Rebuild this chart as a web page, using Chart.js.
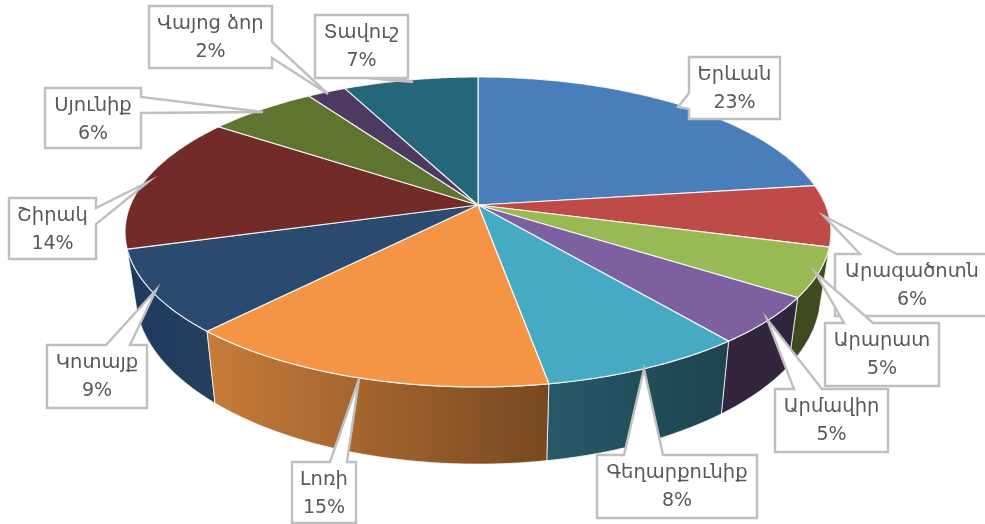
<!DOCTYPE html>
<html>
<head>
<meta charset="utf-8">
<style>
  html, body { margin: 0; padding: 0; background: #fff; overflow: hidden; }
  canvas { display: block; }
</style>
<script src="https://cdn.jsdelivr.net/npm/chart.js@4"></script>
</head>
<body>
<canvas id="pie" width="985" height="524"></canvas>
<script>
const regions = ['Երևան', 'Արագածոտն', 'Արարատ', 'Արմավիր', 'Գեղարքունիք', 'Լոռի', 'Կոտայք', 'Շիրակ', 'Սյունիք', 'Վայոց ձոր', 'Տավուշ'];
const shares = [22.9, 6.4, 5.1, 4.9, 8.0, 14.6, 8.6, 14.2, 5.9, 2.1, 7.3];
const topColors = ['#4a7ebb', '#be4b48', '#98b954', '#7d60a0', '#46aac5', '#f49444', '#2a4a70', '#722b29', '#5f742f', '#4c3a60', '#256679'];
const wallFrom = ['#2f4d71', '#73302e', '#3e4a20', '#32263f', '#275868', '#c87c3a', '#1e3a5c', '#4f1d1c', '#3f4e20', '#332741', '#1a4753'];
const wallTo = ['#2f4d71', '#73302e', '#3e4a20', '#32263f', '#1e4450', '#784820', '#243f60', '#4f1d1c', '#3f4e20', '#332741', '#1a4753'];

// label boxes: x, y, w, h, then callout base a, tip, base b
const callouts = [
  { box: [689, 57, 91, 62], a: [689, 93], tip: [678, 107], b: [689, 109] },
  { box: [835, 254, 154, 62], a: [860, 254], tip: [824, 216], b: [897, 254] },
  { box: [825, 323, 114, 63], a: [844, 323], tip: [815, 272], b: [873, 323] },
  { box: [775, 389, 113, 63], a: [794, 389], tip: [767, 319], b: [822, 389] },
  { box: [597, 455, 160, 63], a: [624, 455], tip: [644, 369], b: [663, 455] },
  { box: [292, 462, 64, 61], a: [330, 462], tip: [359, 379], b: [347, 462] },
  { box: [47, 345, 100, 63], a: [106, 345], tip: [156, 290], b: [130, 345] },
  { box: [9, 198, 87, 61], a: [96, 208], tip: [148, 182], b: [96, 224] },
  { box: [45, 88, 96, 60], a: [141, 97], tip: [263, 112], b: [141, 113] },
  { box: [149, 6, 123, 62], a: [272, 42], tip: [328, 94], b: [272, 58] },
  { box: [315, 15, 93, 63], a: [367, 78], tip: [413, 82], b: [392, 78] }
];

// perspective of the tilted disc
const CX = 478, CY = 205, RX = 347.6, RY = 150.3, K = 0.174;
const DEPTH_X = 0.971, DEPTH_Y = 1.096, DEPTH_OFF = 40;

function topPoint(a) {
  const w = 1 - K * Math.sin(a);
  return [CX + RX * Math.cos(a) / w, CY + RY * Math.sin(a) / w];
}
function bottomPoint(a) {
  const p = topPoint(a);
  return [CX + (p[0] - CX) * DEPTH_X, p[1] * DEPTH_Y + DEPTH_OFF];
}
function edge(ctx, fn, a0, a1) {
  const steps = Math.max(2, Math.ceil(Math.abs(a1 - a0) / 0.01));
  for (let i = 0; i <= steps; i++) {
    const p = fn(a0 + (a1 - a0) * i / steps);
    ctx.lineTo(p[0], p[1]);
  }
}

function drawWall(ctx, arc, i) {
  const s = arc.startAngle, e = arc.endAngle;
  const grad = ctx.createLinearGradient(Math.min(topPoint(s)[0], topPoint(e)[0]), 0, Math.max(topPoint(s)[0], topPoint(e)[0]), 0);
  grad.addColorStop(0, wallFrom[i]);
  grad.addColorStop(1, wallTo[i]);
  ctx.beginPath();
  edge(ctx, topPoint, s, e);
  edge(ctx, bottomPoint, e, s);
  ctx.closePath();
  ctx.fillStyle = grad;
  ctx.fill();
  ctx.strokeStyle = 'rgba(255,255,255,0.75)';
  ctx.lineWidth = 1;
  ctx.stroke();
}

function drawTop(ctx, arc, i) {
  ctx.beginPath();
  ctx.moveTo(CX, CY);
  edge(ctx, topPoint, arc.startAngle, arc.endAngle);
  ctx.closePath();
  ctx.fillStyle = topColors[i];
  ctx.fill();
  ctx.strokeStyle = 'rgba(255,255,255,0.85)';
  ctx.lineWidth = 1.2;
  ctx.stroke();
}

function drawLabel(ctx, c, i) {
  const [x, y, w, h] = c.box;
  const pts = [[x, y], [x + w, y], [x + w, y + h], [x, y + h]];
  // put the callout into the box side it leaves from
  let at = 0;
  if (c.a[1] === y) at = 1;
  else if (c.a[0] === x + w) at = 2;
  else if (c.a[0] === x) at = 4;
  else at = 3;
  if (at === 4) pts.push(c.b, c.tip, c.a);
  else pts.splice(at, 0, c.a, c.tip, c.b);
  ctx.beginPath();
  pts.forEach((p, n) => n ? ctx.lineTo(p[0], p[1]) : ctx.moveTo(p[0], p[1]));
  ctx.closePath();
  ctx.fillStyle = '#fff';
  ctx.fill();
  ctx.strokeStyle = '#bfbfbf';
  ctx.lineWidth = 2.4;
  ctx.stroke();
  ctx.fillStyle = '#595959';
  ctx.textAlign = 'center';
  ctx.textBaseline = 'middle';
  ctx.font = '19.5px "DejaVu Sans"';
  ctx.fillText(regions[i], x + w / 2, y + 18);
  ctx.font = '19px "DejaVu Sans"';
  ctx.fillText(Math.round(shares[i]) + '%', x + w / 2, y + 46);
}

const pie3d = {
  id: 'pie3d',
  beforeDatasetsDraw(chart) {
    const ctx = chart.ctx;
    const arcs = chart.getDatasetMeta(0).data;
    // back walls first
    const order = arcs.map((a, i) => i).sort((p, q) =>
      Math.sin((arcs[p].startAngle + arcs[p].endAngle) / 2) - Math.sin((arcs[q].startAngle + arcs[q].endAngle) / 2));
    order.forEach(i => drawWall(ctx, arcs[i], i));
    arcs.forEach((a, i) => drawTop(ctx, a, i));
    callouts.forEach((c, i) => drawLabel(ctx, c, i));
    return false;
  }
};

new Chart(document.getElementById('pie'), {
  type: 'pie',
  data: { labels: regions, datasets: [{ data: shares, backgroundColor: topColors }] },
  options: {
    responsive: false,
    animation: false,
    plugins: { legend: { display: false }, tooltip: { enabled: false } }
  },
  plugins: [pie3d]
});
</script>
</body>
</html>
